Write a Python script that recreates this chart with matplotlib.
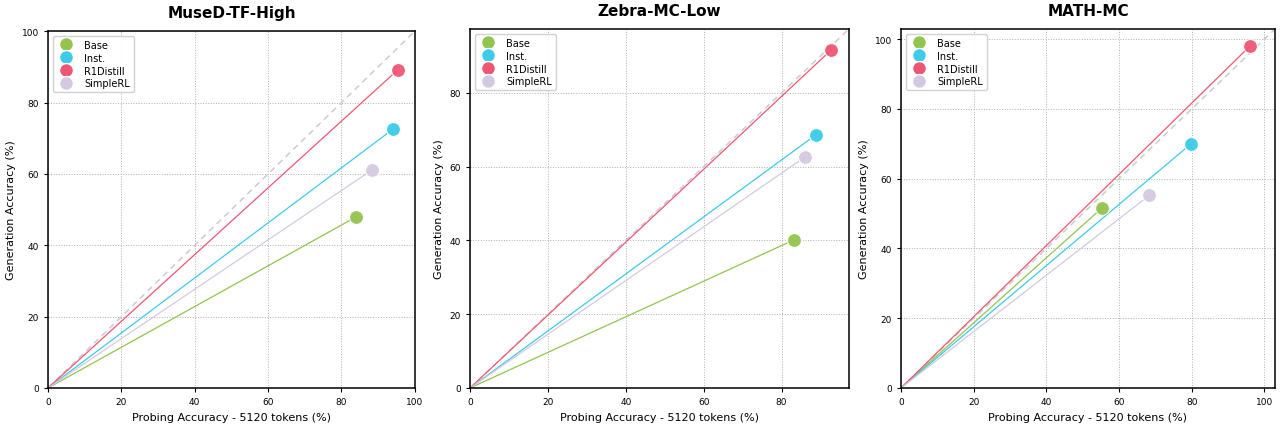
import numpy as np
import matplotlib
matplotlib.use("Agg")
import matplotlib.pyplot as plt
import matplotlib.lines as mlines

# Data
models = ["Base", "Inst.", "R1Distill", "SimpleRL"]
datasets = ["MuseD-TF-High", "Zebra-MC-Low", "MATH-MC"]
probing = [
    [84.1, 94.0, 95.3, 88.3],
    [83.3, 88.9, 92.7, 86.1],
    [55.4, 79.7, 96.0, 68.3],
]
generation = [
    [48.0, 72.5, 89.1, 61.1],
    [40.2, 68.7, 91.6, 62.7],
    [51.7, 69.9, 98.0, 55.2],
]
colors = ["#93c44f", "#3ccbe8", "#ef5674", "#d5c9e1"]

# axes boxes in pixels (left, top, right, bottom)
boxes = [(48, 32, 415, 389), (470, 30, 849, 389), (901, 30, 1275, 389)]

W, H = 1280, 427
fig = plt.figure(figsize=(W / 100, H / 100), dpi=100)

for i, name in enumerate(datasets):
    l, t, r, b = boxes[i]
    ax = fig.add_axes([l / W, 1 - b / H, (r - l) / W, (b - t) / H])
    xs = np.array(probing[i])
    ys = np.array(generation[i])
    lim = max(xs.max(), ys.max()) * 1.05
    ax.plot([0, lim], [0, lim], ls=(0, (4, 3)), color="#cccccc", lw=1.1, zorder=1)
    for j, m in enumerate(models):
        ax.plot([0, xs[j]], [0, ys[j]], color=colors[j], lw=0.9, zorder=2)
        ax.scatter(xs[j], ys[j], s=100, color=colors[j], ec="white", lw=0.8,
                   alpha=0.95, zorder=3)
    ax.set_xlim(0, lim)
    ax.set_ylim(0, lim)
    ax.set_xticks(np.arange(0, lim + 0.01, 20))
    ax.set_yticks(np.arange(0, lim + 0.01, 20))
    ax.grid(True, ls=":", color="#b0b0b0", lw=0.7)
    ax.set_axisbelow(True)
    ax.tick_params(labelsize=6.5, length=3, width=0.8)
    for s in ax.spines.values():
        s.set_linewidth(1.1)
    ax.set_title(name, fontsize=11, fontweight="bold", pad=10)
    ax.set_xlabel("Probing Accuracy - 5120 tokens (%)", fontsize=8, labelpad=4)
    ax.set_ylabel("Generation Accuracy (%)", fontsize=8, labelpad=4)
    handles = [mlines.Line2D([0], [0], marker="o", markersize=10, color="w",
                             markerfacecolor=colors[j], label=m)
               for j, m in enumerate(models)]
    ax.legend(handles=handles, loc="upper left", fontsize=7, handletextpad=0.8,
              labelspacing=0.3, borderpad=0.4, framealpha=0.9)

fig.savefig("out.png", dpi=100)
